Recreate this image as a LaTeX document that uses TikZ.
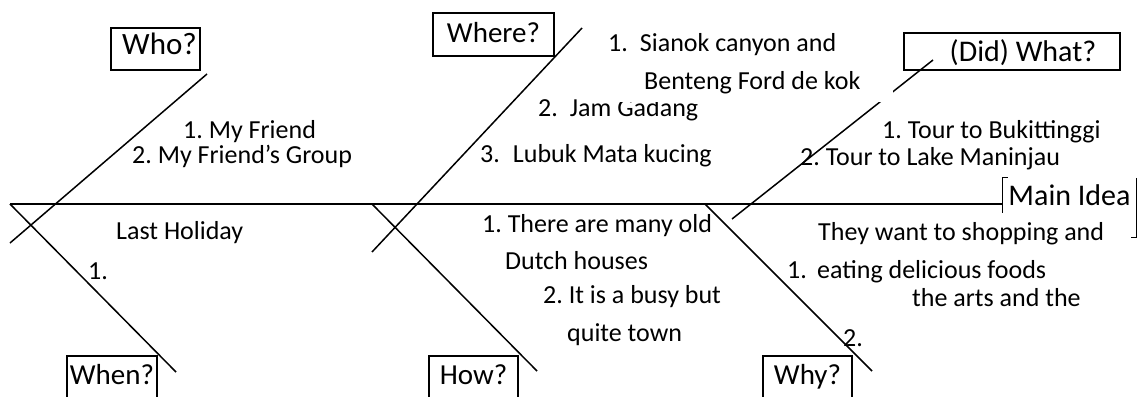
\documentclass[tikz,border=0pt]{standalone}
\usepackage{fontspec}
\setmainfont{Carlito}
\frenchspacing
\begin{document}
\frenchspacing
\begin{tikzpicture}[x=1pt,y=-1pt,
  bone/.style={line width=1.5pt},
  spineline/.style={line width=2.2pt},
  lbl/.style={draw, line width=1.3pt, inner xsep=0pt, inner ysep=0pt, anchor=base, font=\fontsize{29}{34}\selectfont},
  txt/.style={inner sep=0pt, anchor=base west, font=\fontsize{26}{31}\selectfont},
  whitebox/.style={fill=white, inner sep=0pt}]
\clip (0,0) rectangle (1139,396);
\fill[white] (0,0) rectangle (1139,396);

% label boxes (anchor=base, text height = top-to-baseline, text depth = baseline-to-bottom)
\node[lbl, minimum width=89pt, text height=27pt, text depth=15pt, font=\fontsize{31}{36}\selectfont] (who) at (155.5,55) {\hspace{8pt}Who?};
\node[lbl, minimum width=121pt, text height=30pt, text depth=13pt] (where) at (493.5,43) {Where?};
\node[lbl, minimum width=216pt, text height=29pt, text depth=8pt, font=\fontsize{30}{35}\selectfont] (what) at (1012,62) {\hspace{22pt}(Did) What?};
\node[lbl, minimum width=90pt, text height=28pt, text depth=20pt] (when) at (112,384) {When?};
\node[lbl, minimum width=89pt, text height=28pt, text depth=20pt] (how) at (473.5,384) {How?};
\node[lbl, minimum width=89pt, text height=28pt, text depth=20pt] (why) at (807.5,384) {Why?};
\node[inner sep=0pt, minimum width=133pt, minimum height=35pt, font=\fontsize{30}{35}\selectfont] (main) at (1069.5,195.5) {Main Idea};
\draw[line width=1.3pt] ([xshift=5pt]main.north west) -- (main.north west) -- (main.south west);
\draw[line width=1.3pt] (main.north east) -- ([yshift=-24pt]main.south east) -- ([xshift=-5pt,yshift=-24pt]main.south east);

% texts
\node[txt] (t1) at (183,138) {1. My Friend};
\node[txt] (t2) at (132,163) {2. My Friend’s Group};
\node[txt] (t5) at (538,116) {2.\hspace{12pt}Jam Gadang};
\node[txt] (t6) at (480,162) {3.\hspace{13pt}Lubuk Mata kucing};
\node[txt] (t7) at (882,138) {1. Tour to Bukittinggi};
\node[txt] (t8) at (800,165) {2. Tour to Lake Maninjau};
\node[txt] (t9) at (116,239) {Last Holiday};
\node[txt] (t10) at (88,279) {1.};
\node[txt] (t11) at (482,232) {1. There are many old};
\node[txt] (t12) at (505,269) {Dutch houses};
\node[txt] (t13) at (543,303) {2. It is a busy but};
\node[txt] (t14) at (567,341) {quite town};
\node[txt] (t15) at (818,240) {They want to shopping and};
\node[txt] (t16) at (787,278) {1.};
\node[txt] (t17) at (817,278) {eating delicious foods};
\node[txt] (t18) at (912,306) {the arts and the};
\node[txt] (t19) at (843,346) {2.};

% bone coordinates
\coordinate (sL) at (10,204);
\coordinate (sR) at (main.west |- 0,204);
\coordinate (whoA) at (207,74);
\coordinate (whoB) at (10,243);
\coordinate (whenA) at (10,204);
\coordinate (whenB) at (176,372);
\coordinate (whereA) at (582,28);
\coordinate (whereB) at (372,252);
\coordinate (howA) at (372,204);
\coordinate (howB) at (537,371);
\coordinate (whatA) at (933,60);
\coordinate (whatB) at (732,219);
\coordinate (whyA) at (705,204);
\coordinate (whyB) at (872,371);

\draw[spineline] (sL) -- (sR);
\draw[bone] (whoA) -- (whoB);
\draw[bone] (whenA) -- (whenB);
\draw[bone] (whereA) -- (whereB);
\draw[bone] (howA) -- (howB);
\draw[bone] (whatA) -- (whatB);
\draw[bone] (whyA) -- (whyB);

% white text box covering part of the What bone
\fill[white] (606,27) rectangle (893,102);
\node[txt] (t3) at (608,52) {1.\hspace{12pt}Sianok canyon and};
\node[txt] (t4) at (644,89) {Benteng Ford de kok};
\end{tikzpicture}
\end{document}
